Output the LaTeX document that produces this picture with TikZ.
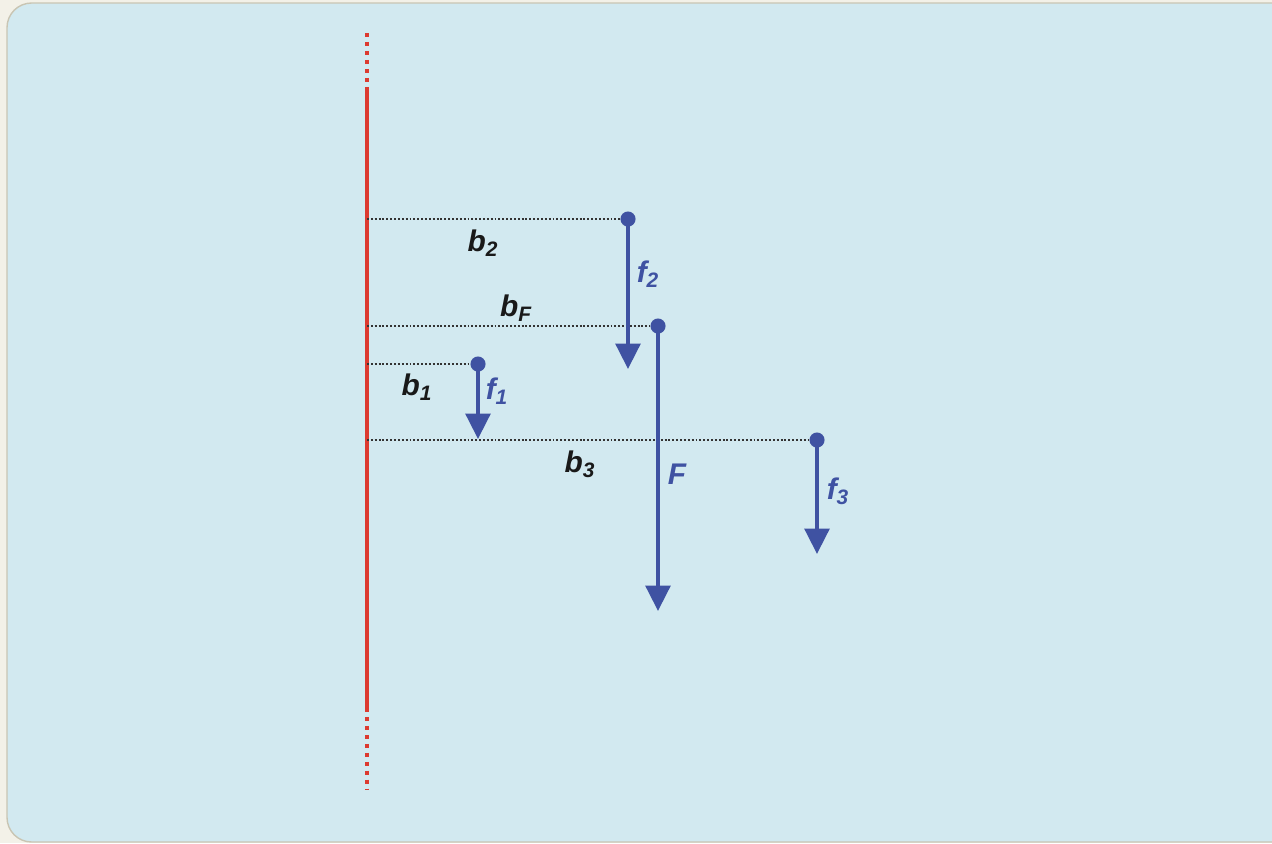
\documentclass[tikz,border=0pt]{standalone}
\usepackage{fontspec}
\setmainfont{Liberation Sans}
\usepackage{xcolor}
\usepackage{tikz}
\usetikzlibrary{arrows.meta, positioning, calc}

\definecolor{panelblue}{HTML}{D2E9F0}
\definecolor{paper}{HTML}{F3F1E8}
\definecolor{rimgray}{HTML}{C9C5B3}
\definecolor{axisred}{HTML}{DC3A30}
\definecolor{forceblue}{HTML}{3F52A2}

\begin{document}
\begin{tikzpicture}[
x=0.02cm, y=-0.02cm,
every node/.style={font=\fontsize{17}{20}\selectfont\bfseries\itshape, inner sep=0pt},
axisline/.style={draw=axisred, line width=2.3pt},
axisdots/.style={draw=axisred, line width=2.3pt, dash pattern=on 2.3pt off 2.8pt},
lever/.style={draw=black!80, line width=0.9pt, dash pattern=on 1.1pt off 1.1pt},
dot/.style={circle, fill=forceblue, minimum size=8.6pt},
force/.style={draw=forceblue, line width=2.4pt, -{Triangle[width=14pt, length=14.5pt]}},
dist/.style={text=black!90},
flabel/.style={text=forceblue}
]

% background panel
\useasboundingbox (0,0) rectangle (1272,843);
\fill[paper] (0,0) rectangle (1272,843);
\begin{scope}
\clip (0,0) rectangle (1272,843);
\draw[rimgray, fill=panelblue, line width=0.8pt, rounded corners=14pt] (7,3) rectangle (1300,842);
\end{scope}

% axis
\coordinate (top) at (367,33);
\coordinate (solidtop) at (367,90);
\coordinate (solidbot) at (367,708);
\coordinate (bot) at (367,790);
\draw[axisdots] (top) -- (solidtop);
\draw[axisline] (solidtop) -- (solidbot);
\draw[axisdots] (solidbot) -- (bot);

% points of application
\node[dot] (p2) at (628,219) {};
\node[dot] (pF) at (658,326) {};
\node[dot] (p1) at (478,364) {};
\node[dot] (p3) at (817,440) {};

% feet on the axis
\coordinate (a2) at (367,219);
\coordinate (aF) at (367,326);
\coordinate (a1) at (367,364);
\coordinate (a3) at (367,440);

% arrow ends
\coordinate (e2) at (628,369);
\coordinate (eF) at (658,611);
\coordinate (e1) at (478,439);
\coordinate (e3) at (817,554);

\draw[lever] (a2) -- (p2);
\draw[lever] (aF) -- (pF);
\draw[lever] (a1) -- (p1);
\draw[lever] (a3) -- (p3);

\draw[force] (p2.center) -- (e2);
\draw[force] (pF.center) -- (eF);
\draw[force] (p1.center) -- (e1);
\draw[force] (p3.center) -- (e3);

% labels
\node[dist] (lb2) at (483,243) {b\textsubscript{2}};
\node[dist] (lbF) at (516,308) {b\textsubscript{F}};
\node[dist] (lb1) at (417,387) {b\textsubscript{1}};
\node[dist] (lb3) at (580,464) {b\textsubscript{3}};
\node[flabel] (lf2) at (648,274) {f\textsubscript{2}};
\node[flabel] (lf1) at (497,391) {f\textsubscript{1}};
\node[flabel] (lF) at (677,474) {F};
\node[flabel] (lf3) at (838,491) {f\textsubscript{3}};

\end{tikzpicture}
\end{document}
